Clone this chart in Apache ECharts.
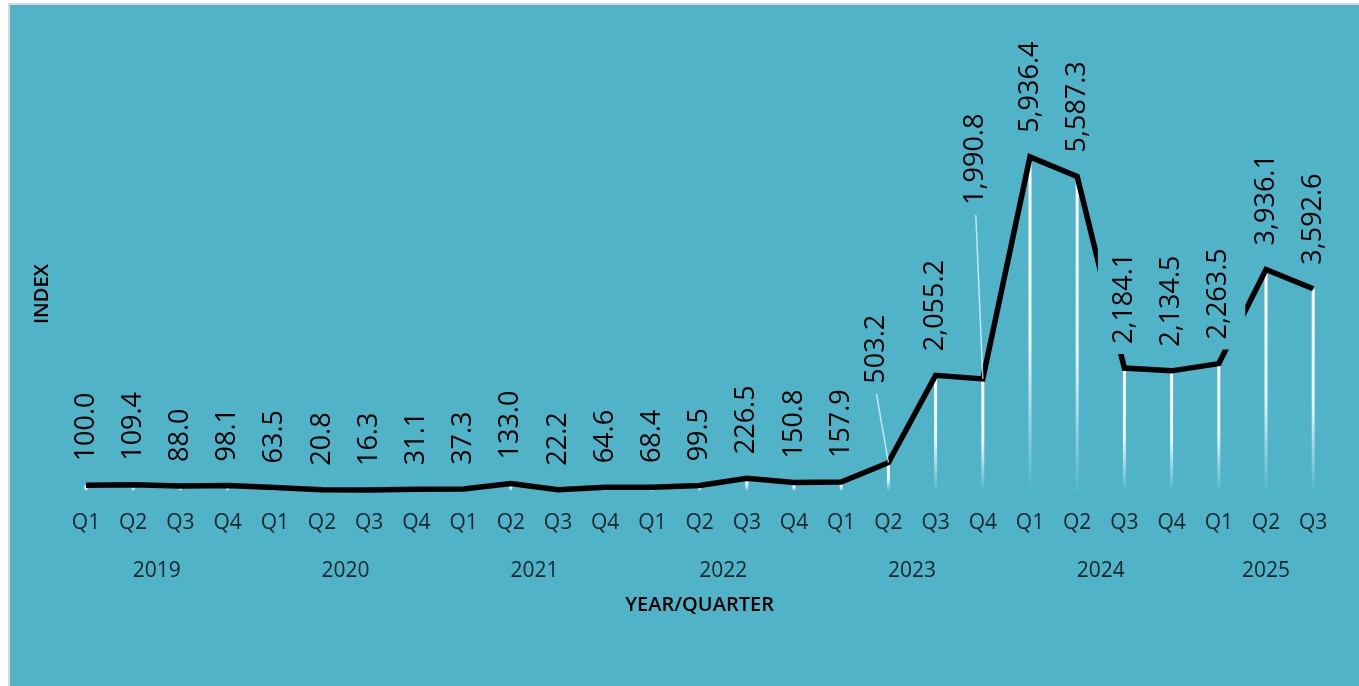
<!DOCTYPE html>
<html>
<head>
<meta charset="utf-8">
<script src="https://cdn.jsdelivr.net/npm/echarts@6/dist/echarts.min.js"></script>
<style>
  html, body { margin: 0; padding: 0; background: #ffffff; width: 1359px; height: 686px; overflow: hidden; }
  #frame { position: absolute; left: 8px; top: 3px; width: 1360px; height: 690px; background: #50B3C8; border-left: 2px solid #d9d9d9; border-top: 2px solid #d9d9d9; }
  #chart { position: absolute; left: 0; top: 0; width: 1359px; height: 686px; }
</style>
</head>
<body>
<div id="frame"></div>
<div id="chart"></div>
<script>
// ---- data ----
const years = ['2019', '2020', '2021', '2022', '2023', '2024', '2025'];
const quarters = ['Q1','Q2','Q3','Q4','Q1','Q2','Q3','Q4','Q1','Q2','Q3','Q4','Q1','Q2','Q3','Q4','Q1','Q2','Q3','Q4','Q1','Q2','Q3','Q4','Q1','Q2','Q3'];
const quarterYear = ['2019','2019','2019','2019','2020','2020','2020','2020','2021','2021','2021','2021','2022','2022','2022','2022','2023','2023','2023','2023','2024','2024','2024','2024','2025','2025','2025'];
const indexValues = [100.0, 109.4, 88.0, 98.1, 63.5, 20.8, 16.3, 31.1, 37.3, 133.0, 22.2, 64.6, 68.4, 99.5, 226.5, 150.8, 157.9, 503.2, 2055.2, 1990.8, 5936.4, 5587.3, 2184.1, 2134.5, 2263.5, 3936.1, 3592.6];

// ---- style ----
const TEAL = '#50B3C8';
const FONT = 'Open Sans';

// year labels on a half-step category axis (boundaryGap false, 2 slots per quarter)
const yearSlots = new Array(quarters.length * 2 + 1).fill('');
years.forEach(y => {
  const first = quarterYear.indexOf(y);
  const last = quarterYear.lastIndexOf(y);
  yearSlots[first + last + 1] = y;
});

// labels moved away from the line (with leader lines); offsets are in the rotated label frame
const movedLabels = { 17: { dx: 55, dy: -12 }, 19: { dx: 150, dy: -7 } };

const fmt = v => v.toLocaleString('en-US', { minimumFractionDigits: 1, maximumFractionDigits: 1 });

const chart = echarts.init(document.getElementById('chart'), null, { renderer: 'canvas' });
chart.setOption({
  backgroundColor: 'transparent',
  animation: false,
  grid: { left: 62.4, right: 22.2, top: 97, bottom: 195, containLabel: false },
  xAxis: [
    {
      type: 'category', data: quarters, boundaryGap: true, position: 'bottom',
      axisLine: { show: false }, axisTick: { show: false }, splitLine: { show: false },
      axisLabel: { interval: 0, margin: 22, color: '#15252b', fontFamily: FONT, fontSize: 21 }
    },
    {
      type: 'category', data: yearSlots, boundaryGap: false, position: 'bottom', offset: 0,
      axisLine: { show: false }, axisTick: { show: false }, splitLine: { show: false },
      axisLabel: { interval: 0, margin: 70, color: '#15252b', fontFamily: FONT, fontSize: 21 },
      name: 'YEAR/QUARTER', nameLocation: 'middle', nameGap: 104,
      nameTextStyle: { color: '#000', fontFamily: FONT, fontSize: 20, fontWeight: 600 }
    }
  ],
  yAxis: {
    type: 'value', min: 0, max: 7000,
    axisLine: { show: false }, axisTick: { show: false }, splitLine: { show: false },
    axisLabel: { show: false },
    name: 'INDEX', nameLocation: 'middle', nameGap: 10, nameRotate: 90,
    nameTextStyle: { color: '#000', fontFamily: FONT, fontSize: 20, fontWeight: 600 }
  },
  series: [
    {
      type: 'bar', xAxisIndex: 0, data: indexValues, barWidth: 3, z: 1,
      itemStyle: {
        color: new echarts.graphic.LinearGradient(0, 0, 0, 1, [
          { offset: 0, color: 'rgba(255,255,255,1)' },
          { offset: 0.55, color: 'rgba(255,255,255,0.9)' },
          { offset: 1, color: 'rgba(255,255,255,0.03)' }
        ])
      },
      silent: true
    },
    {
      type: 'line', xAxisIndex: 0, z: 3,
      data: indexValues.map((v, i) => movedLabels[i] ? { value: v, labelLine: { show: true } } : v),
      symbol: 'circle', symbolSize: 0.1, showSymbol: true,
      itemStyle: { color: '#000' },
      lineStyle: { color: '#000', width: 5.5, join: 'miter' },
      label: {
        show: true, position: 'top', distance: 14, rotate: 90, align: 'left', verticalAlign: 'middle',
        color: '#000', fontFamily: FONT, fontSize: 27,
        backgroundColor: TEAL, padding: [13, 4, 13, 10],
        formatter: p => fmt(p.value)
      },
      labelLine: { show: false, lineStyle: { color: 'rgba(230,248,252,0.75)', width: 1.5 } },
      labelLayout: p => movedLabels[p.dataIndex] ? { dx: movedLabels[p.dataIndex].dx, dy: movedLabels[p.dataIndex].dy } : {}
    }
  ]
});
</script>
</body>
</html>
